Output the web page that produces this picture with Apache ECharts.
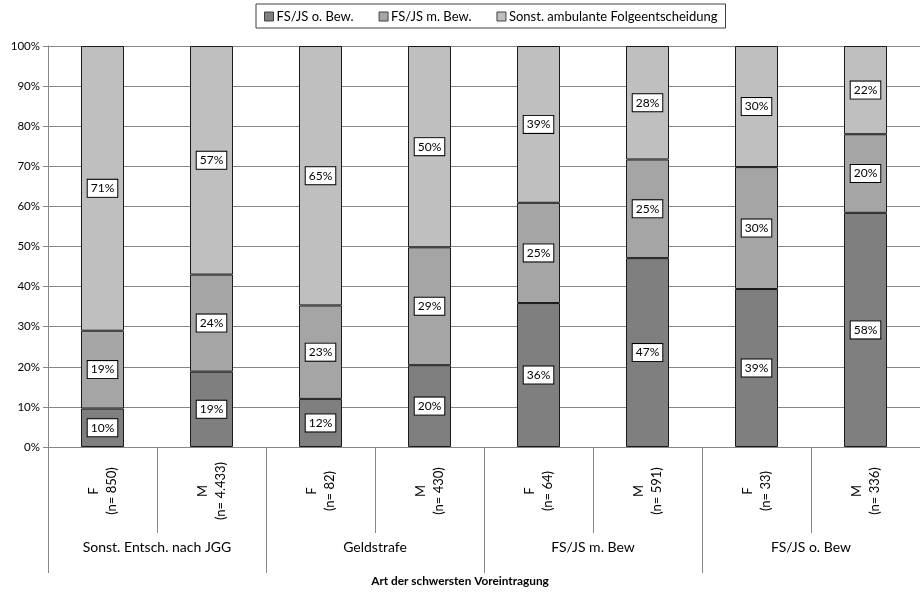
<!DOCTYPE html>
<html><head><meta charset="utf-8">
<script src="https://cdn.jsdelivr.net/npm/echarts@6/dist/echarts.min.js"></script>
<style>html,body{margin:0;padding:0;background:#fff}#c{width:920px;height:593px}</style>
</head><body><div id="c"></div>
<script>
var subCategories = ['F\n(n= 850)', 'M\n(n= 4.433)', 'F\n(n= 82)', 'M\n(n= 430)', 'F\n(n= 64)', 'M\n(n= 591)', 'F\n(n= 33)', 'M\n(n= 336)'];
var groupCategories = ['Sonst. Entsch. nach JGG', 'Geldstrafe', 'FS/JS m. Bew', 'FS/JS o. Bew'];
var seriesNames = ['FS/JS o. Bew.', 'FS/JS m. Bew.', 'Sonst. ambulante Folgeentscheidung'];
var fsjsOhneBew = [9.6, 18.8, 12.0, 20.4, 35.9, 47.1, 39.4, 58.4];
var fsjsMitBew = [19.4, 24.2, 23.3, 29.4, 25.0, 24.6, 30.4, 19.6];
var sonstAmbulant = [71.0, 57.0, 64.7, 50.2, 39.1, 28.3, 30.2, 22.0];
var yTicks = [0, 10, 20, 30, 40, 50, 60, 70, 80, 90, 100];
var axisTitle = 'Art der schwersten Voreintragung';

var FONT = 'Lato, "Open Sans", sans-serif';
var colors = ['#7f7f7f', '#a5a5a5', '#bfbfbf'];
var dataSets = [fsjsOhneBew, fsjsMitBew, sonstAmbulant];

function labelFmt(p) { return Math.round(p.value) + '%'; }

var chart = echarts.init(document.getElementById('c'), null, {renderer: 'canvas'});
chart.setOption({
  animation: false,
  color: colors,
  textStyle: {fontFamily: FONT},
  title: {
    text: axisTitle, left: 'center', bottom: 1,
    textStyle: {fontFamily: FONT, fontSize: 11.8, fontWeight: 'bold', color: '#000'}
  },
  legend: {
    left: 256, top: 4,
    padding: [6, 8, 5, 8],
    borderColor: '#404040', borderWidth: 1,
    itemWidth: 9, itemHeight: 9, itemGap: 25,
    icon: 'rect',
    textStyle: {fontFamily: FONT, fontSize: 13, color: '#000', padding: [0, 0, 0, -2]},
    data: seriesNames.map(function (n, i) {
      return {name: n, itemStyle: {borderColor: '#404040', borderWidth: 1}};
    })
  },
  grid: {left: 48, top: 46, width: 877, height: 401, containLabel: false},
  xAxis: [{
    type: 'category', data: subCategories, position: 'bottom',
    axisLine: {show: true, lineStyle: {color: '#868686'}},
    axisTick: {show: true, length: 86, alignWithLabel: false, lineStyle: {color: '#868686'}},
    axisLabel: {
      rotate: 90, margin: 44, interval: 0, align: 'center', verticalAlign: 'middle',
      fontFamily: FONT, fontSize: 13, color: '#000', lineHeight: 18
    }
  }, {
    type: 'category', data: groupCategories, position: 'bottom', offset: 0,
    axisLine: {show: false},
    axisTick: {show: true, length: 126, lineStyle: {color: '#868686'}},
    axisLabel: {margin: 93, interval: 0, fontFamily: FONT, fontSize: 14, color: '#000'}
  }],
  yAxis: {
    type: 'value', min: 0, max: 100, interval: 10,
    axisLine: {show: true, lineStyle: {color: '#868686'}},
    axisTick: {show: true, length: 5, lineStyle: {color: '#868686'}},
    splitLine: {show: true, lineStyle: {color: '#868686'}},
    axisLabel: {margin: 8, fontFamily: FONT, fontSize: 11.5, color: '#000',
      formatter: function (v) { return yTicks.indexOf(v) >= 0 ? v + '%' : ''; }}
  },
  series: dataSets.map(function (d, i) {
    return {
      name: seriesNames[i], type: 'bar', stack: 'total', xAxisIndex: 0,
      barWidth: 43, data: d,
      itemStyle: {color: colors[i], borderColor: '#1a1a1a', borderWidth: 1},
      label: {
        show: true, position: 'inside', formatter: labelFmt,
        fontFamily: FONT, fontSize: 12, color: '#000',
        backgroundColor: '#fff', borderColor: '#000', borderWidth: 1,
        padding: [3, 3, 2, 3]
      }
    };
  })
});
</script></body></html>
